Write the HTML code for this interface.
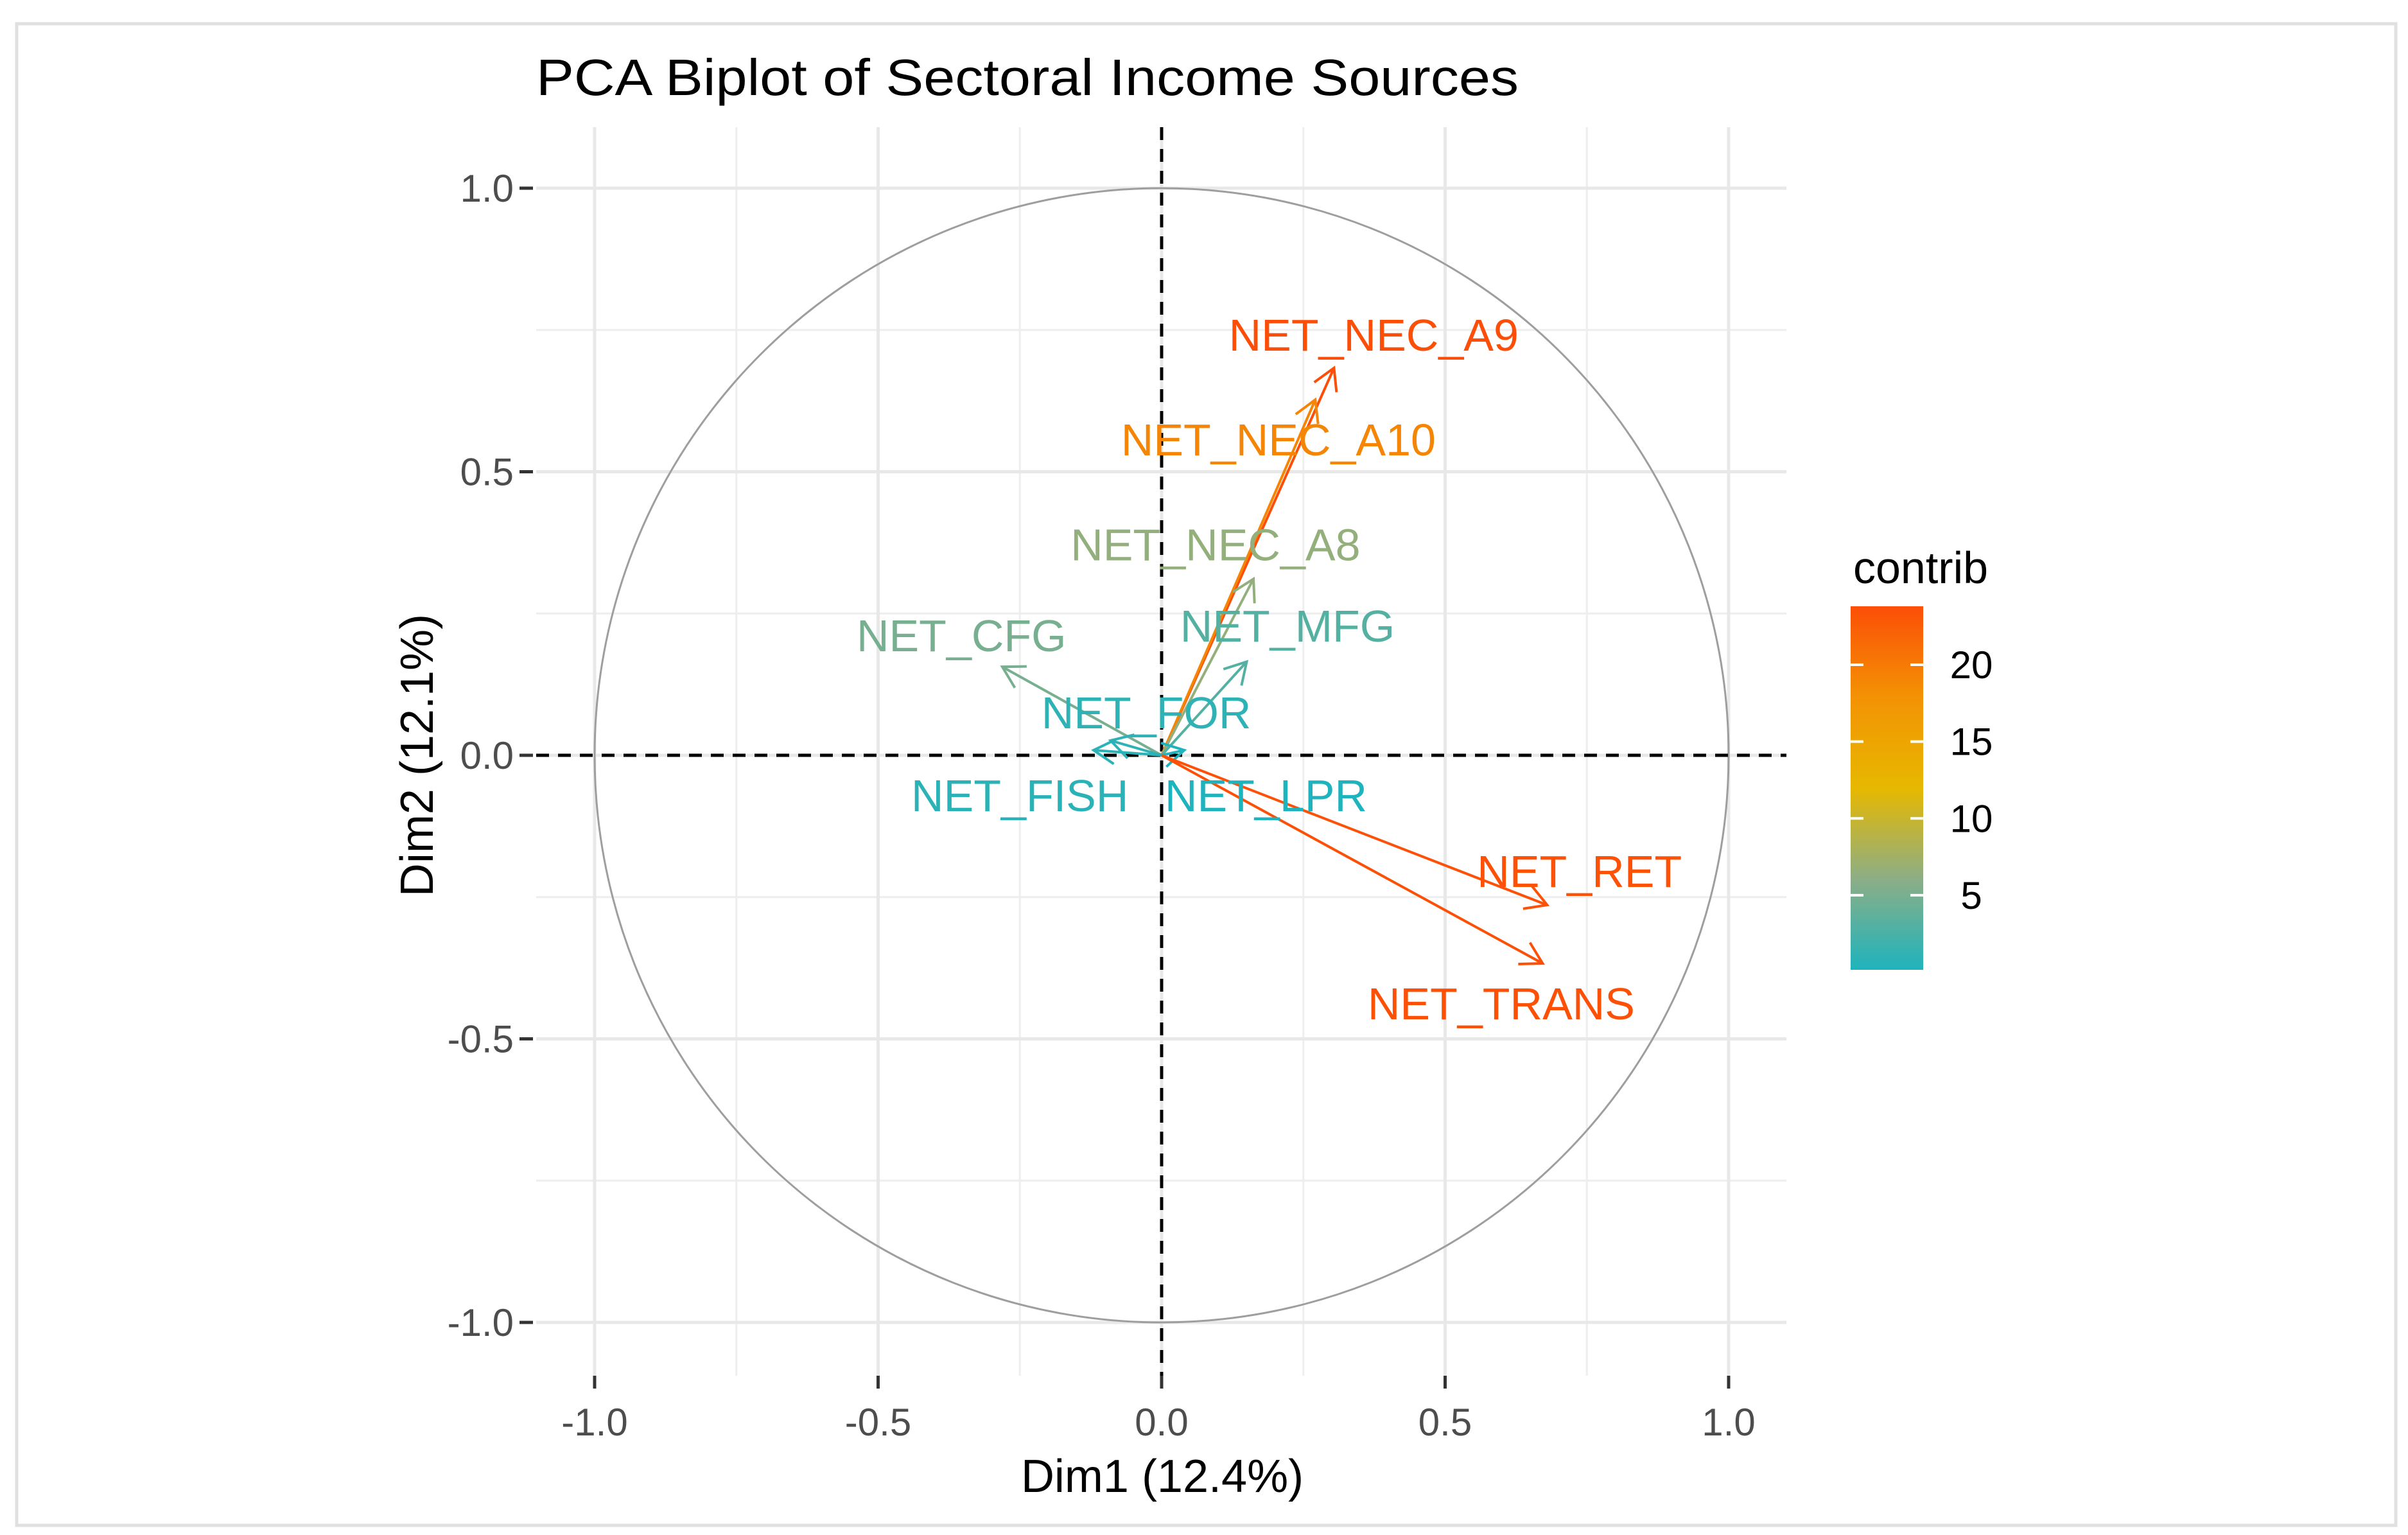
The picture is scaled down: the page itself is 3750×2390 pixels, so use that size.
<!DOCTYPE html>
<html><head><meta charset="utf-8"><style>
html,body{margin:0;padding:0;background:#fff;}
svg{display:block;font-family:"Liberation Sans",Arial,sans-serif;}
</style></head><body>
<svg id="chart" width="3750" height="2390" viewBox="0 0 3750 2390" xmlns="http://www.w3.org/2000/svg">
<defs>
<linearGradient id="cgrad" x1="0" y1="1" x2="0" y2="0">
<stop offset="0" stop-color="#1fb3bd"/>
<stop offset="0.25" stop-color="#8cae86"/>
<stop offset="0.5" stop-color="#e7b800"/>
<stop offset="0.75" stop-color="#f39204"/>
<stop offset="1" stop-color="#fc4e07"/>
</linearGradient>
</defs>
<rect x="0" y="0" width="3750" height="2390" fill="#fff"/>
<rect x="26" y="37" width="3705" height="2338" fill="none" stroke="#e0e0e0" stroke-width="5"/>
<text x="835" y="148" font-size="80" fill="#000" textLength="1530" lengthAdjust="spacingAndGlyphs">PCA Biplot of Sectoral Income Sources</text>
<g id="grid"></g>
<g id="axes"></g>
<g id="arrows"></g>
<g id="labels"></g>
<text x="1810" y="2323" font-size="72" text-anchor="middle" fill="#000">Dim1 (12.4%)</text>
<text x="0" y="0" font-size="72" text-anchor="middle" fill="#000" transform="translate(674,1176) rotate(-90)">Dim2 (12.1%)</text>
<g>
<text x="2886" y="908" font-size="70" fill="#000">contrib</text>
<rect x="2882" y="944" width="113" height="566" fill="url(#cgrad)"/>
<g id="legendticks"></g>
</g>
</svg>
<script>
const varNames = ["NET_NEC_A9","NET_NEC_A10","NET_NEC_A8","NET_MFG","NET_CFG","NET_FOR","NET_FISH","NET_LPR","NET_RET","NET_TRANS"];
const dim1 = [0.304, 0.271, 0.162, 0.150, -0.281, -0.090, -0.120, 0.040, 0.680, 0.672];
const dim2 = [0.683, 0.627, 0.311, 0.165, 0.156, 0.026, 0.009, 0.009, -0.264, -0.367];
const contrib = [23.8, 19, 6.5, 3, 5, 1, 0.8, 0.15, 23.5, 23.6];
const labelX = [0.374, 0.206, 0.095, 0.222, -0.353, -0.027, -0.25, 0.184, 0.737, 0.599];
const labelY = [0.742, 0.557, 0.372, 0.229, 0.212, 0.076, -0.07, -0.07, -0.204, -0.437];
const tickValues = [-1.0, -0.5, 0.0, 0.5, 1.0];
const tickLabels = ["-1.0", "-0.5", "0.0", "0.5", "1.0"];
const minorValues = [-0.75, -0.25, 0.25, 0.75];
const legendTicks = [5, 10, 15, 20];
const contribMin = 0.15, contribMax = 23.8;

const NS = "http://www.w3.org/2000/svg";
const X0 = 1809, UX = 883, Y0 = 1176, UY = 883;
const px = v => X0 + v * UX;
const py = v => Y0 - v * UY;
const PL = 835, PR = 2782, PT = 198, PB = 2142;
function mk(tag, attrs, parent) {
  const e = document.createElementNS(NS, tag);
  for (const k in attrs) e.setAttribute(k, attrs[k]);
  parent.appendChild(e);
  return e;
}
function lerp(a, b, t) { return Math.round(a + (b - a) * t); }
const stops = [[0,[31,179,189]],[0.25,[140,174,134]],[0.5,[231,184,0]],[0.75,[243,146,4]],[1,[252,78,7]]];
function colorFor(c) {
  let t = (c - contribMin) / (contribMax - contribMin);
  t = Math.max(0, Math.min(1, t));
  for (let i = 0; i < stops.length - 1; i++) {
    const [t0, A] = stops[i], [t1, B] = stops[i + 1];
    if (t <= t1) {
      const u = (t - t0) / (t1 - t0);
      return "rgb(" + [lerp(A[0], B[0], u), lerp(A[1], B[1], u), lerp(A[2], B[2], u)].join(",") + ")";
    }
  }
  return "rgb(252,78,7)";
}
const grid = document.getElementById("grid");
minorValues.forEach(v => {
  let l = mk("line", {x1: px(v), x2: px(v), y1: PT, y2: PB, stroke: "#eeeeee", "stroke-width": 3}, grid);
  
  
  l = mk("line", {x1: PL, x2: PR, y1: py(v), y2: py(v), stroke: "#eeeeee", "stroke-width": 3}, grid);
  
  
});
tickValues.forEach(v => {
  let l = mk("line", {x1: px(v), x2: px(v), y1: PT, y2: PB, stroke: "#e8e8e8", "stroke-width": 5}, grid);
  
  
  l = mk("line", {x1: PL, x2: PR, y1: py(v), y2: py(v), stroke: "#e8e8e8", "stroke-width": 5}, grid);
  
  
});
const axes = document.getElementById("axes");
const circ = mk("circle", {cx: px(0), cy: py(0), r: UX, fill: "none", stroke: "#9e9e9e", "stroke-width": 3}, axes);


let h = mk("line", {x1: PL, x2: PR, y1: py(0), y2: py(0), stroke: "#000", "stroke-width": 5, "stroke-dasharray": "20 14"}, axes);


let vl = mk("line", {x1: px(0), x2: px(0), y1: PT, y2: PB, stroke: "#000", "stroke-width": 5, "stroke-dasharray": "20 14"}, axes);


tickValues.forEach((v, i) => {
  let t = mk("line", {x1: 809, x2: 830, y1: py(v), y2: py(v), stroke: "#333", "stroke-width": 5}, axes);
  
  
  let tx = mk("text", {x: 800, y: py(v) + 21, "font-size": 60, "text-anchor": "end", fill: "#4d4d4d"}, axes);
  tx.textContent = tickLabels[i];
  
  
  t = mk("line", {x1: px(v), x2: px(v), y1: PB, y2: PB + 20, stroke: "#333", "stroke-width": 5}, axes);
  
  
  tx = mk("text", {x: px(v), y: 2235, "font-size": 60, "text-anchor": "middle", fill: "#4d4d4d"}, axes);
  tx.textContent = tickLabels[i];
  
  
});
const arrows = document.getElementById("arrows");
const labels = document.getElementById("labels");
varNames.forEach((n, i) => {
  const col = colorFor(contrib[i]);
  const x1 = px(0), y1 = py(0), x2 = px(dim1[i]), y2 = py(dim2[i]);
  const g = mk("g", {}, arrows);
  
  
  mk("line", {x1: x1, y1: y1, x2: x2, y2: y2, stroke: col, "stroke-width": 4}, g);
  const ang = Math.atan2(y2 - y1, x2 - x1), L = 38, a = Math.PI / 6;
  const p1 = [x2 - L * Math.cos(ang - a), y2 - L * Math.sin(ang - a)];
  const p2 = [x2 - L * Math.cos(ang + a), y2 - L * Math.sin(ang + a)];
  mk("polyline", {points: p1.join(",") + " " + x2 + "," + y2 + " " + p2.join(","), fill: "none", stroke: col, "stroke-width": 4}, g);
  const t = mk("text", {x: px(labelX[i]), y: py(labelY[i]) + 25, "font-size": 70, "text-anchor": "middle", fill: col}, labels);
  t.textContent = n;
  
  
});
const lt = document.getElementById("legendticks");
const ly = v => 1510 - (v - contribMin) / (contribMax - contribMin) * 566;
legendTicks.forEach(v => {
  let l = mk("line", {x1: 2882, x2: 2902, y1: ly(v), y2: ly(v), stroke: "#fff", "stroke-width": 4}, lt);
  
  
  l = mk("line", {x1: 2975, x2: 2995, y1: ly(v), y2: ly(v), stroke: "#fff", "stroke-width": 4}, lt);
  
  
  const t = mk("text", {x: 3070, y: ly(v) + 21, "font-size": 60, "text-anchor": "middle", fill: "#000"}, lt);
  t.textContent = String(v);
  
  
});
</script>
</body></html>
